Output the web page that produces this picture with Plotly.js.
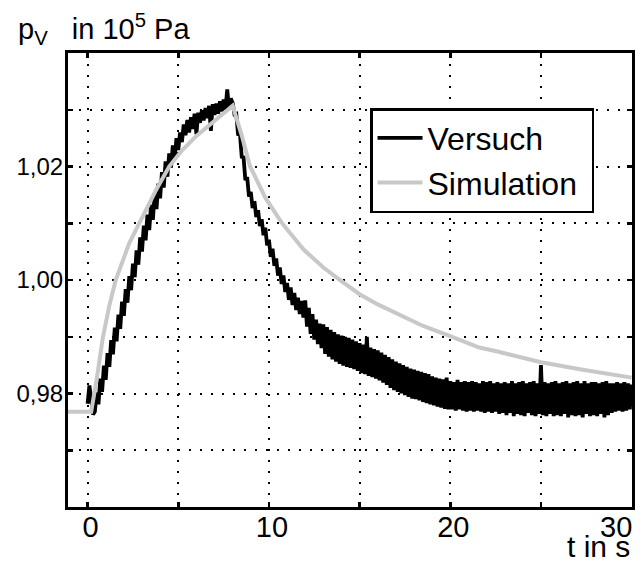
<!DOCTYPE html>
<html><head><meta charset="utf-8">
<script src="https://cdn.plot.ly/plotly-3.0.1.min.js"></script>
<style>html,body{margin:0;padding:0;background:#fff}</style>
</head><body><div id="chart" style="width:642px;height:565px"></div>
<script>
// Versuch: measured pressure, sampled every 0.1 s from t = 0 s
const versuchStart = 0.0;
const versuchStep = 0.1;
const versuchValues = [
0.9782,0.9814,0.9790,0.9763,0.9768,0.9802,0.9781,0.9826,0.9803,0.9849,
0.9824,0.9871,0.9847,0.9894,0.9869,0.9916,0.9892,0.9939,0.9914,0.9962,
0.9937,0.9984,0.9960,1.0007,0.9982,1.0029,1.0005,1.0052,1.0027,1.0075,
1.0050,1.0096,1.0070,1.0115,1.0088,1.0133,1.0106,1.0152,1.0125,1.0170,
1.0144,1.0190,1.0163,1.0209,1.0182,1.0223,1.0198,1.0237,1.0212,1.0250,
1.0229,1.0260,1.0243,1.0274,1.0255,1.0282,1.0260,1.0287,1.0266,1.0293,
1.0257,1.0295,1.0277,1.0299,1.0281,1.0303,1.0285,1.0307,1.0263,1.0310,
1.0291,1.0311,1.0293,1.0315,1.0297,1.0318,1.0300,1.0336,1.0302,1.0320,
1.0312,1.0292,1.0293,1.0255,1.0258,1.0217,1.0216,1.0176,1.0181,1.0147,
1.0155,1.0127,1.0139,1.0111,1.0123,1.0095,1.0107,1.0079,1.0092,1.0061,
1.0071,1.0041,1.0055,1.0025,1.0038,1.0008,1.0022,0.9993,1.0008,0.9979,
0.9995,0.9965,0.9987,0.9956,0.9977,0.9947,0.9969,0.9940,0.9963,0.9934,
0.9964,0.9918,0.9951,0.9905,0.9940,0.9895,0.9930,0.9887,0.9923,0.9880,
0.9922,0.9870,0.9917,0.9865,0.9912,0.9860,0.9908,0.9856,0.9904,0.9852,
0.9902,0.9849,0.9900,0.9847,0.9898,0.9845,0.9895,0.9843,0.9892,0.9840,
0.9889,0.9836,0.9886,0.9834,0.9900,0.9831,0.9881,0.9829,0.9878,0.9826,
0.9876,0.9823,0.9872,0.9819,0.9868,0.9815,0.9864,0.9810,0.9860,0.9806,
0.9856,0.9803,0.9853,0.9800,0.9850,0.9797,0.9847,0.9794,0.9844,0.9791,
0.9842,0.9790,0.9840,0.9788,0.9838,0.9785,0.9836,0.9783,0.9834,0.9781,
0.9830,0.9779,0.9828,0.9777,0.9826,0.9775,0.9825,0.9773,0.9828,0.9772,
0.9822,0.9772,0.9820,0.9770,0.9824,0.9772,0.9820,0.9770,0.9822,0.9768,
0.9820,0.9770,0.9822,0.9768,0.9820,0.9770,0.9818,0.9768,0.9822,0.9766,
0.9820,0.9768,0.9822,0.9766,0.9818,0.9768,0.9820,0.9764,0.9818,0.9766,
0.9820,0.9762,0.9818,0.9766,0.9822,0.9760,0.9818,0.9764,0.9820,0.9762,
0.9822,0.9760,0.9818,0.9766,0.9820,0.9762,0.9822,0.9760,0.9818,0.9764,
0.9850,0.9762,0.9820,0.9760,0.9818,0.9764,0.9820,0.9760,0.9822,0.9762,
0.9818,0.9760,0.9820,0.9764,0.9822,0.9758,0.9818,0.9762,0.9820,0.9760,
0.9822,0.9762,0.9818,0.9758,0.9822,0.9764,0.9818,0.9760,0.9820,0.9762,
0.9820,0.9760,0.9818,0.9764,0.9820,0.9758,0.9822,0.9762,0.9818,0.9766,
0.9818,0.9768,0.9820,0.9770,0.9818,0.9768,0.9820,0.9770,0.9818,0.9772,
0.9816
];

// Simulation curve
const simTime = [-1.1, 0.2, 0.5, 0.85, 1.2, 1.55, 2.3, 3.0, 3.8, 4.5, 5.2, 6.0, 6.9, 7.5, 8.0,
  8.5, 8.95, 9.8, 10.7, 11.9, 13.0, 14.0, 15.0, 16.0, 17.2, 18.5, 20.0, 21.6, 22.6, 25.0, 27.3, 30.0];
const simValues = [0.9768, 0.9768, 0.9825, 0.9900, 0.9955, 1.0000, 1.0065, 1.0110, 1.0160, 1.0200, 1.0228, 1.0254, 1.0277, 1.0292, 1.0307,
  1.0255, 1.0201, 1.0145, 1.0101, 1.0054, 1.0022, 0.9998, 0.9975, 0.9957, 0.9938, 0.9919, 0.9901, 0.9881, 0.9874, 0.9855, 0.9842, 0.9828];

const seriesNames = ['Versuch', 'Simulation'];
const NB = '\u00a0';
const xTickVals = [0, 10, 20];
const xTickText = ['0', '10', '20'];
const xMinorVals = [5, 15, 25];
const xLastTickLabel = '30';
const yTickVals = [0.98, 1.00, 1.02];
const yTickText = ['0,98', '1,00', '1,02'];
const yMinorVals = [0.97, 0.99, 1.01, 1.03];

const versuchTime = versuchValues.map((_, i) => +(versuchStart + i * versuchStep).toFixed(2));

const FONT = 'Liberation Sans, Arial, Helvetica, sans-serif';

const traces = [
  { x: versuchTime, y: versuchValues, type: 'scatter', mode: 'lines', name: seriesNames[0],
    legendgroup: 'a', line: { color: '#000000', width: 3.8 } },
  { x: simTime, y: simValues, type: 'scatter', mode: 'lines', name: seriesNames[1] + NB,
    legendgroup: 'b', line: { color: '#c8c8c8', width: 4 } }
];

const gridStyle = { showgrid: true, gridcolor: '#000000', gridwidth: 2, griddash: '2px,9px' };
const tickStyle = { ticks: 'inside', ticklen: 5, tickwidth: 2.5, tickcolor: '#000000' };

const axisCommon = Object.assign({}, gridStyle, tickStyle, {
  zeroline: false, showline: true, linecolor: '#000000', linewidth: 3,
  mirror: 'ticks', tickmode: 'array'
});

const layout = {
  width: 642, height: 565,
  margin: { l: 68, r: 10, t: 53, b: 58 },
  paper_bgcolor: '#ffffff', plot_bgcolor: '#ffffff',
  font: { family: FONT, color: '#000000' },
  showlegend: true,
  legend: {
    x: 0.5355, y: 0.8788, xanchor: 'left', yanchor: 'top',
    traceorder: 'grouped', tracegroupgap: 0, itemwidth: 45,
    bgcolor: '#ffffff', bordercolor: '#000000', borderwidth: 2.5,
    font: { family: FONT, size: 32, color: '#000000' }
  },
  xaxis: Object.assign({}, axisCommon, {
    range: [-1.08, 30.02], tickvals: xTickVals, ticktext: xTickText,
    minor: Object.assign({ tickmode: 'array', tickvals: xMinorVals }, gridStyle, tickStyle),
    ticklabelstandoff: -8, ticklabelshift: 3,
    tickfont: { family: FONT, size: 29, color: '#000000' }
  }),
  yaxis: Object.assign({}, axisCommon, {
    range: [0.96, 1.04], tickvals: yTickVals, ticktext: yTickText,
    minor: Object.assign({ tickmode: 'array', tickvals: yMinorVals }, gridStyle, tickStyle),
    ticklabelstandoff: -3,
    tickfont: { family: FONT, size: 24, color: '#000000' }
  }),
  annotations: [
    { text: 'p<sub>V</sub>' + NB + NB + ' in 10<sup>5</sup> Pa', xref: 'paper', yref: 'paper',
      x: -0.092, y: 1.004, xanchor: 'left', yanchor: 'bottom', showarrow: false,
      font: { family: FONT, size: 29, color: '#000000' } },
    { text: xLastTickLabel, xref: 'paper', yref: 'paper',
      x: 1.003, y: -0.0441, xanchor: 'right', yanchor: 'middle', valign: 'middle',
      height: 22, showarrow: false,
      font: { family: FONT, size: 29, color: '#000000' } },
    { text: 't in s', xref: 'paper', yref: 'paper',
      x: 1.0, y: -0.0870, xanchor: 'right', yanchor: 'middle', showarrow: false,
      font: { family: FONT, size: 30, color: '#000000' } }
  ]
};

Plotly.newPlot('chart', traces, layout, { displayModeBar: false, staticPlot: true });
</script>
</body></html>
